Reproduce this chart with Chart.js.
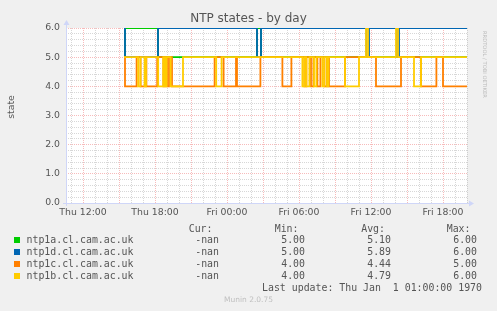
<!DOCTYPE html>
<html><head><meta charset="utf-8">
<script src="https://cdn.jsdelivr.net/npm/chart.js@4.4.1/dist/chart.umd.min.js"></script>
<style>
html,body{margin:0;padding:0;background:#F0F0F0;}
#wrap{position:relative;width:497px;height:311px;overflow:hidden;background:#F0F0F0;font-family:"DejaVu Sans",sans-serif;color:#555;}
#c{position:absolute;left:0;top:0;}
.t{position:absolute;white-space:pre;line-height:12px;}
.mono{font-family:"DejaVu Sans Mono",monospace;font-size:9.9px;color:#555;}
.sq{position:absolute;width:6px;height:6px;}
</style></head>
<body><div id="wrap">
<canvas id="c" width="497" height="311"></canvas>
<div class="t" style="left:0;width:497px;text-align:center;top:12px;font-size:12px;color:#555">NTP states - by day</div>
<div class="t" style="left:-1px;top:101px;font-size:9.33px;transform:rotate(-90deg);transform-origin:12px 6px;width:24px;text-align:center;">state</div>
<div class="t" style="left:491px;top:31px;font-size:5.2px;color:#bbb;transform:rotate(90deg);transform-origin:0 0;">RRDTOOL / TOBI OETIKER</div>
<div id="legend"></div>
<div class="t" style="left:0;width:497px;text-align:center;top:294px;font-size:7.5px;color:#c0c0c0">Munin 2.0.75</div>
</div>
<script>
// ---- data ----
const seriesNames = ['ntp1a.cl.cam.ac.uk','ntp1d.cl.cam.ac.uk','ntp1c.cl.cam.ac.uk','ntp1b.cl.cam.ac.uk'];
const seriesColors = ['#00CC00','#0066B3','#FF8000','#FFCC00'];
const curValues = ['-nan','-nan','-nan','-nan'];
const minValues = ['5.00','5.00','4.00','4.00'];
const avgValues = ['5.10','5.89','4.44','4.79'];
const maxValues = ['6.00','6.00','5.00','6.00'];
const lastUpdate = 'Last update: Thu Jan  1 01:00:00 1970';

const axisStart = 'Thu 10:35';
const axisEnd = 'Fri 20:00';
const yTickLabels = ['0.0','1.0','2.0','3.0','4.0','5.0','6.0'];

// state changes: time of change and the new state
const ntp1aTimes = ['Thu 15:25','Thu 15:30','Thu 18:15','Fri 02:30','Fri 02:50','Fri 20:00'];
const ntp1aStates = [5,6,5,6,5,5];

const ntp1dTimes = ['Thu 15:25','Thu 15:30','Thu 18:15','Fri 02:30','Fri 02:50','Fri 11:37','Fri 11:50','Fri 14:10','Fri 14:20','Fri 20:00'];
const ntp1dStates = [6,5,6,5,6,5,6,5,6,6];

const ntp1cTimes = ['Thu 15:25','Thu 15:30','Thu 16:28','Thu 16:48','Thu 17:12','Thu 17:17','Thu 18:11','Thu 18:42','Thu 18:50','Thu 19:00','Thu 19:10','Thu 19:25',
  'Thu 22:58','Thu 23:43','Fri 00:45','Fri 00:50','Fri 02:47','Fri 04:37','Fri 05:22','Fri 06:27','Fri 06:37','Fri 07:00','Fri 07:12','Fri 07:32','Fri 07:47',
  'Fri 08:07','Fri 08:20','Fri 08:30','Fri 09:50','Fri 12:25','Fri 14:30','Fri 16:10','Fri 17:27','Fri 18:00','Fri 20:00'];
const ntp1cStates = [5,4,5,4,5,4,5,4,5,4,5,4,
  5,4,5,4,5,4,5,4,5,4,5,4,5,
  4,5,4,5,4,5,4,5,4,4];

const ntp1bTimes = ['Thu 15:25','Thu 16:36','Thu 16:47','Thu 17:08','Thu 17:15','Thu 18:16','Thu 18:41','Thu 18:50','Thu 18:58','Thu 19:18','Thu 20:20',
  'Thu 23:06','Thu 23:33','Fri 06:17','Fri 06:27','Fri 06:37','Fri 06:52','Fri 07:15','Fri 07:27','Fri 07:57','Fri 08:07','Fri 08:20','Fri 08:27',
  'Fri 09:50','Fri 11:00','Fri 11:35','Fri 11:45','Fri 14:05','Fri 14:15','Fri 15:35','Fri 16:10','Fri 20:00'];
const ntp1bStates = [5,4,5,4,5,4,5,4,5,4,5,
  4,5,4,5,4,5,4,5,4,5,4,5,
  4,5,6,5,6,5,4,5,5];

const seriesTimes = [ntp1aTimes, ntp1dTimes, ntp1cTimes, ntp1bTimes];
const seriesStates = [ntp1aStates, ntp1dStates, ntp1cStates, ntp1bStates];

// ---- helpers ----
function parseT(s){ const p=s.split(' '); const hm=p[1].split(':').map(Number); return (p[0]==='Fri'?24:0)+hm[0]+hm[1]/60; }
function fmtT(v){ const d=v<24?'Thu':'Fri'; const h=Math.round(v)%24; return d+' '+String(h).padStart(2,'0')+':00'; }

// ---- legend (HTML text) ----
(function(){
  const L=document.getElementById('legend');
  const rowTop=[234,246.1,258.2,270.3];
  function add(txt,left,top,right){
    const d=document.createElement('div'); d.className='t mono'; d.textContent=txt;
    d.style.top=top+'px';
    if(right!==undefined){ d.style.right=(497-right)+'px'; d.style.textAlign='right'; } else d.style.left=left+'px';
    L.appendChild(d);
  }
  add('Cur:',0,222.5,212.5); add('Min:',0,222.5,298.5); add('Avg:',0,222.5,385); add('Max:',0,222.5,470.5);
  seriesNames.forEach((n,i)=>{
    const s=document.createElement('div'); s.className='sq'; s.style.left='14px'; s.style.top=(rowTop[i]+2.5)+'px'; s.style.background=seriesColors[i]; L.appendChild(s);
    add(n,26.5,rowTop[i]);
    add(curValues[i],0,rowTop[i],219);
    add(minValues[i],0,rowTop[i],305);
    add(avgValues[i],0,rowTop[i],391);
    add(maxValues[i],0,rowTop[i],477);
  });
  add(lastUpdate,0,282,482);
})();

// ---- chart ----
const xMin=parseT(axisStart), xMax=parseT(axisEnd);
const gridMinor='rgba(150,150,150,0.38)', gridMajor='rgba(240,120,120,0.5)';
const axisColor='#CFD6F8';

const framePlugin={
  id:'frame',
  beforeDraw(ch){ const c=ch.ctx,a=ch.chartArea; c.save(); c.fillStyle='#FFFFFF'; c.fillRect(a.left,a.top,a.right-a.left,a.bottom-a.top); c.restore(); },
  afterDraw(ch){
    const c=ch.ctx,a=ch.chartArea; c.save();
    c.strokeStyle=axisColor; c.fillStyle=axisColor; c.lineWidth=1;
    c.beginPath(); c.moveTo(a.left-3,a.bottom+0.5); c.lineTo(a.right+2,a.bottom+0.5); c.stroke();
    c.beginPath(); c.moveTo(a.left+0.5,a.bottom+3); c.lineTo(a.left+0.5,a.top-3); c.stroke();
    c.beginPath(); c.moveTo(a.right+2,a.bottom-2.5); c.lineTo(a.right+7,a.bottom+0.5); c.lineTo(a.right+2,a.bottom+3.5); c.closePath(); c.fill();
    c.beginPath(); c.moveTo(a.left-2.5,a.top-3); c.lineTo(a.left+0.5,a.top-8); c.lineTo(a.left+3.5,a.top-3); c.closePath(); c.fill();
    c.restore();
  }
};

const datasets=seriesNames.map((n,i)=>({
  label:n,
  data:seriesTimes[i].map((t,j)=>({x:parseT(t),y:seriesStates[i][j]})),
  borderColor:seriesColors[i],
  backgroundColor:seriesColors[i],
  borderWidth:1.8,
  pointRadius:0,
  stepped:'before',
  fill:false,
  order:4-i
}));

new Chart(document.getElementById('c'),{
  type:'line',
  data:{datasets},
  options:{
    responsive:false, animation:false, events:[],
    layout:{padding:{left:0,top:28,right:30,bottom:88}},
    plugins:{legend:{display:false},tooltip:{enabled:false},title:{display:false}},
    scales:{
      x:{type:'linear',min:xMin,max:xMax,
        afterFit(s){s.height=20;},
        afterBuildTicks(s){const t=[];for(let h=Math.ceil(xMin);h<=xMax;h++)t.push({value:h});s.ticks=t;},
        ticks:{autoSkip:false,maxRotation:0,minRotation:0,padding:4,color:'#555',font:{family:'DejaVu Sans',size:9.33},
          callback(v){return (v%6===0)?fmtT(v):'';}},
        grid:{drawTicks:false,lineWidth:1,color(c){const v=c.tick?c.tick.value:0;return (v%3===0)?gridMajor:gridMinor;}},
        border:{display:false,dash:[1,1]}
      },
      y:{min:0,max:6,
        afterFit(s){s.width=66;},
        afterBuildTicks(s){const t=[];for(let i=0;i<=30;i++)t.push({value:i/5});s.ticks=t;},
        ticks:{autoSkip:false,padding:6,color:'#555',font:{family:'DejaVu Sans',size:9.33},
          callback(v){const r=Math.round(v);return Math.abs(v-r)<1e-6?yTickLabels[r]:'';}},
        grid:{drawTicks:false,lineWidth:1,color(c){const v=c.tick?c.tick.value:0;return Math.abs(v-Math.round(v))<1e-6?gridMajor:gridMinor;}},
        border:{display:false,dash:[1,1]}
      }
    }
  },
  plugins:[framePlugin]
});
</script>
</body></html>
